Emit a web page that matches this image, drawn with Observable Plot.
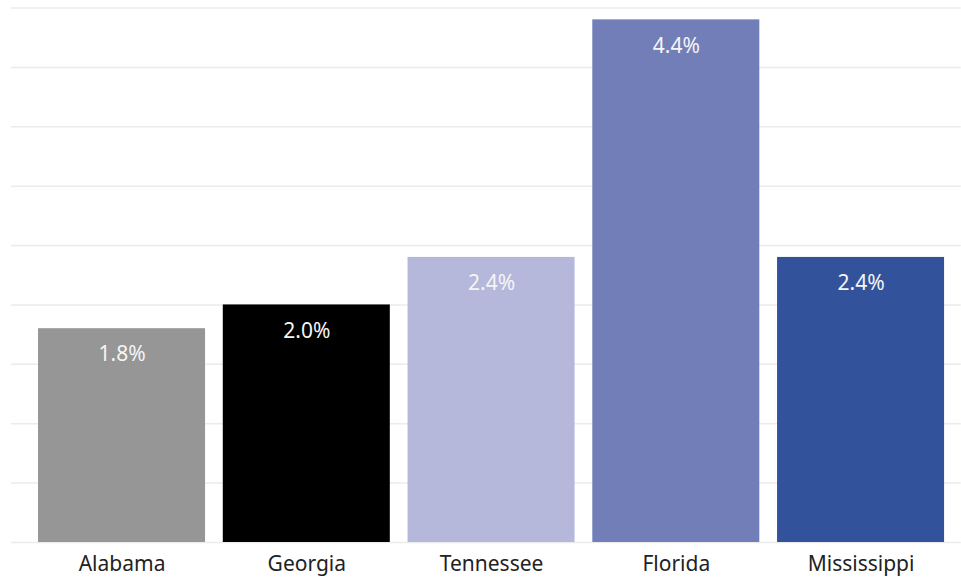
<!DOCTYPE html>
<html>
<head>
<meta charset="utf-8">
<script src="https://cdn.jsdelivr.net/npm/d3@7"></script>
<script src="https://cdn.jsdelivr.net/npm/@observablehq/plot@0.6"></script>
<style>
  html, body { margin: 0; padding: 0; background: #fff; }
  #chart svg { display: block; }
</style>
</head>
<body>
<div id="chart"></div>
<script>
const states = ["Alabama", "Georgia", "Tennessee", "Florida", "Mississippi"];
const values = [1.8, 2.0, 2.4, 4.4, 2.4];
const colors = ["#969696", "#000000", "#b5b8da", "#717eb7", "#32529b"];
const gridTicks = [0, 0.5, 1, 1.5, 2, 2.5, 3, 3.5, 4, 4.5];

const data = states.map((s, i) => ({state: s, value: values[i], color: colors[i]}));

const chart = Plot.plot({
  width: 961,
  height: 580,
  marginLeft: 21.4,
  marginRight: 0.3,
  marginTop: 7.5,
  marginBottom: 38,
  style: {fontFamily: "'Noto Sans', sans-serif", background: "#fff"},
  x: {domain: states, paddingInner: 0.096, paddingOuter: 0.09, round: false, label: null},
  y: {domain: [0, 4.5], axis: null},
  marks: [
    Plot.ruleY(gridTicks, {stroke: "#ebebeb", strokeWidth: 1.5, insetLeft: -10.4}),
    Plot.barY(data, {x: "state", y: "value", fill: "color"}),
    Plot.text(data, {x: "state", y: "value", text: d => d.value.toFixed(1) + "%", dy: 26, fill: "#f5f5f5", fontSize: 21}),
    Plot.axisX({tickSize: 0, tickPadding: 14, fontSize: 21, color: "#222", label: null})
  ]
});
document.getElementById("chart").appendChild(chart);
</script>
</body>
</html>
